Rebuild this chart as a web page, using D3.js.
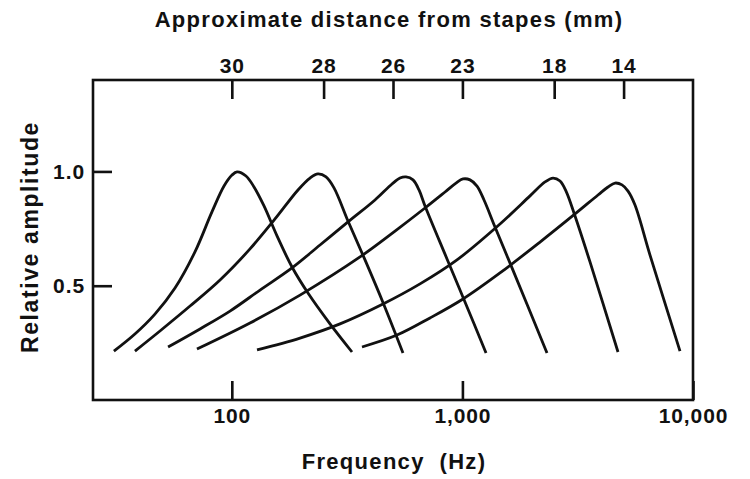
<!DOCTYPE html>
<html><head><meta charset="utf-8">
<script src="https://cdn.jsdelivr.net/npm/d3@7"></script>
<style>
html,body{margin:0;padding:0;background:#fff;}
svg text{font-family:"Liberation Sans",Arial,Helvetica,sans-serif;font-weight:bold;fill:#111;letter-spacing:0.9px;}
</style></head>
<body><svg id="c" width="750" height="479"></svg>
<script>
// ---- data ----
const freqTicks = [100, 1000, 10000];
const freqTickLabels = ["100", "1,000", "10,000"];
const ampTicks = [0.5, 1.0];
const distanceFreqs = [100, 250, 500, 1000, 2500, 5000];
const distanceLabels = ["30", "28", "26", "23", "18", "14"];

const curve30 = [[30.8,0.214],[38,0.289],[46.4,0.376],[56.7,0.49],[69.2,0.648],[82,0.823],[92.5,0.936],[100.2,0.984],[105.3,0.998],[115.2,0.98],[124.8,0.932],[137.9,0.849],[157,0.718],[182.4,0.582],[213.9,0.468],[266.6,0.333],[332,0.21]];
const curve28 = [[38,0.214],[48.8,0.302],[65.9,0.411],[88.9,0.525],[119.9,0.661],[153.9,0.792],[193.6,0.919],[218.3,0.971],[236.4,0.989],[256.2,0.976],[277.4,0.928],[319,0.783],[378.1,0.613],[457,0.416],[552.4,0.206]];
const curve26 = [[52.9,0.232],[72.8,0.311],[98.2,0.389],[132.5,0.481],[182.4,0.578],[241.2,0.678],[319,0.779],[417.7,0.875],[495.1,0.945],[536.2,0.971],[569.3,0.976],[610.6,0.963],[648.3,0.919],[688.3,0.849],[857.5,0.617],[1026,0.429],[1266,0.206]];
const curve23 = [[70.6,0.223],[119.9,0.337],[197.6,0.459],[359.7,0.626],[510.2,0.739],[688.3,0.84],[840.5,0.91],[938,0.949],[1006,0.967],[1078.7,0.963],[1156.8,0.936],[1240.8,0.875],[1384.6,0.757],[1641,0.578],[2327,0.206]];
const curve18 = [[128.6,0.219],[197.6,0.271],[294.6,0.333],[452.4,0.42],[654.8,0.508],[947.4,0.613],[1455.6,0.77],[1964.6,0.893],[2281.3,0.954],[2471.3,0.971],[2650.2,0.958],[2813.9,0.914],[3078.5,0.805],[3575.3,0.604],[4729,0.21]];
const curve14 = [[366.9,0.232],[520.3,0.284],[723.5,0.359],[1006,0.442],[1455.6,0.556],[2170.2,0.691],[3078.5,0.814],[3872.8,0.897],[4279.8,0.932],[4589.5,0.949],[4921.6,0.941],[5226.3,0.914],[5603,0.853],[6510,0.634],[8782,0.214]];
const curves = [curve30, curve28, curve26, curve23, curve18, curve14];

// ---- layout ----
const svg = d3.select("#c");
const L = 93, R = 693, T = 80, B = 400;
const x = d3.scaleLog().domain([25, 10000]).range([L, R]);
const y = d3.scaleLinear().domain([0, 1.4]).range([B, T]);
const tickLen = 19;
const fs = 21;

function styleAxis(g){
  g.select(".domain").remove();
  g.selectAll(".tick line").attr("stroke","#111").attr("stroke-width",2.6);
  g.selectAll(".tick text").attr("font-size",fs).attr("fill","#111");
}

svg.append("g").attr("transform",`translate(0,${B})`)
  .call(d3.axisBottom(x).tickValues(freqTicks).tickFormat((d,i)=>freqTickLabels[i]).tickSize(-tickLen).tickPadding(8))
  .call(styleAxis);

svg.append("g").attr("transform",`translate(0,${T})`)
  .call(d3.axisTop(x).tickValues(distanceFreqs).tickFormat((d,i)=>distanceLabels[i]).tickSize(-tickLen).tickPadding(7))
  .call(styleAxis);

svg.append("g").attr("transform",`translate(${L},0)`)
  .call(d3.axisLeft(y).tickValues(ampTicks).tickFormat(d3.format(".1f")).tickSize(-tickLen).tickPadding(8))
  .call(styleAxis);

svg.append("rect").attr("x",L).attr("y",T).attr("width",R-L).attr("height",B-T)
  .attr("fill","none").attr("stroke","#111").attr("stroke-width",2.6);

const line = d3.line().x(d=>x(d[0])).y(d=>y(d[1])).curve(d3.curveCatmullRom.alpha(0.5));
svg.append("g").selectAll("path").data(curves).join("path")
  .attr("d", line).attr("fill","none").attr("stroke","#111").attr("stroke-width",2.8)
  .attr("stroke-linecap","butt").attr("stroke-linejoin","round");

// titles
svg.append("text").attr("x",389).attr("y",27).attr("text-anchor","middle").attr("font-size",22)
  .style("letter-spacing","1.3px").text("Approximate distance from stapes (mm)");
svg.append("text").attr("x",394).attr("y",469).attr("text-anchor","middle").attr("font-size",22)
  .style("letter-spacing","1.3px").attr("xml:space","preserve").text("Frequency  (Hz)");
svg.append("text").attr("transform","translate(38,237) rotate(-90)").attr("text-anchor","middle").attr("font-size",23)
  .style("letter-spacing","1.6px").text("Relative amplitude");
</script></body></html>
